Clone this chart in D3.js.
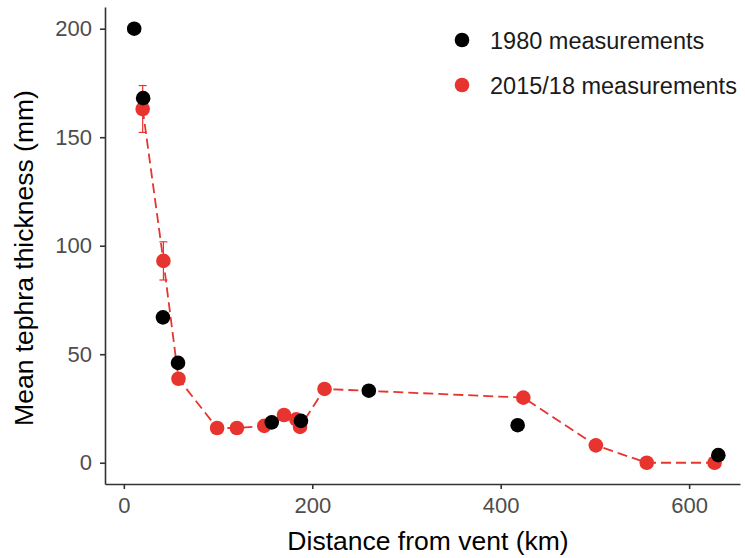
<!DOCTYPE html>
<html>
<head>
<meta charset="utf-8">
<script src="https://cdn.jsdelivr.net/npm/d3@7"></script>
<style>
body { margin: 0; background: #fff; }
text { font-family: "Liberation Sans", Arial, sans-serif; }
</style>
</head>
<body>
<svg id="chart" width="745" height="558"></svg>
<script>
// 2015/18 measurements (red, joined by dashed line)
var newDist = [20, 42, 58, 99, 120, 149, 170, 183, 187, 213, 424, 501, 555, 627];
var newThick = [163, 93, 38.7, 16, 16, 17, 22, 20, 16.5, 34, 30, 8, 0, 0];
var newErr = [10.8, 8.8, 0, 0, 0, 0, 0, 0, 0, 0, 0, 0, 0, 0];

// 1980 measurements (black)
var oldDist = [11, 20.5, 41.5, 57.5, 157, 188, 260, 418, 631];
var oldThick = [200, 168, 67, 46, 18.6, 19.3, 33.2, 17.3, 3.5];

var xTicks = [0, 200, 400, 600];
var yTicks = [0, 50, 100, 150, 200];
var legendLabels = ["1980 measurements", "2015/18 measurements"];

var red = "#e8342f", black = "#000000";
var svg = d3.select("#chart");

var x = d3.scaleLinear().domain([-20, 654]).range([105, 740]);
var y = d3.scaleLinear().domain([-9.8, 210]).range([484, 7]);

// axes
var xAxis = svg.append("g").attr("transform", "translate(0,484)")
	.call(d3.axisBottom(x).tickValues(xTicks).tickSize(5).tickPadding(6).tickSizeOuter(0));
var yAxis = svg.append("g").attr("transform", "translate(105,0)")
	.call(d3.axisLeft(y).tickValues(yTicks).tickSize(5).tickPadding(8).tickSizeOuter(0));

[xAxis, yAxis].forEach(function(a){
	a.select(".domain").attr("stroke", "#333").attr("stroke-width", 1.6);
	a.selectAll(".tick line").attr("stroke", "#333").attr("stroke-width", 1.6);
	a.selectAll(".tick text").attr("fill", "#4d4d4d").style("font-size", "22px")
		.style("font-family", "'Liberation Sans', Arial, sans-serif");
});
xAxis.selectAll(".tick text").attr("dy", "0.8em");

// titles
svg.append("text").attr("x", 428).attr("y", 550).attr("text-anchor", "middle")
	.style("font-size", "26.5px").attr("fill", "#000").text("Distance from vent (km)");
svg.append("text").attr("transform", "translate(33,258) rotate(-90)").attr("text-anchor", "middle")
	.style("font-size", "26.5px").attr("fill", "#000").text("Mean tephra thickness (mm)");

var newData = newDist.map(function(d, i){ return {x: d, y: newThick[i], e: newErr[i]}; });
var oldData = oldDist.map(function(d, i){ return {x: d, y: oldThick[i]}; });

// dashed line
svg.append("path").datum(newData)
	.attr("fill", "none").attr("stroke", red).attr("stroke-width", 1.8)
	.attr("stroke-dasharray", "10,5")
	.attr("d", d3.line().x(function(d){ return x(d.x); }).y(function(d){ return y(d.y); }));

// error bars
var eb = svg.append("g").attr("stroke", red).attr("stroke-width", 1.2);
newData.filter(function(d){ return d.e > 0; }).forEach(function(d){
	var cx = x(d.x);
	eb.append("line").attr("x1", cx).attr("x2", cx).attr("y1", y(d.y - d.e)).attr("y2", y(d.y + d.e));
	eb.append("line").attr("x1", cx - 4).attr("x2", cx + 4).attr("y1", y(d.y - d.e)).attr("y2", y(d.y - d.e));
	eb.append("line").attr("x1", cx - 4).attr("x2", cx + 4).attr("y1", y(d.y + d.e)).attr("y2", y(d.y + d.e));
});

svg.append("g").selectAll("circle").data(newData).enter().append("circle")
	.attr("cx", function(d){ return x(d.x); }).attr("cy", function(d){ return y(d.y); })
	.attr("r", 7.3).attr("fill", red);

svg.append("g").selectAll("circle").data(oldData).enter().append("circle")
	.attr("cx", function(d){ return x(d.x); }).attr("cy", function(d){ return y(d.y); })
	.attr("r", 7.3).attr("fill", black);

// legend
var legColors = [black, red];
legendLabels.forEach(function(lab, i){
	var ly = 40 + i * 45;
	svg.append("circle").attr("cx", 462).attr("cy", ly).attr("r", 7.3).attr("fill", legColors[i]);
	svg.append("text").attr("x", 490).attr("y", ly + 8.5).style("font-size", "23.5px")
		.attr("fill", "#1a1a1a").text(lab);
});
</script>
</body>
</html>
